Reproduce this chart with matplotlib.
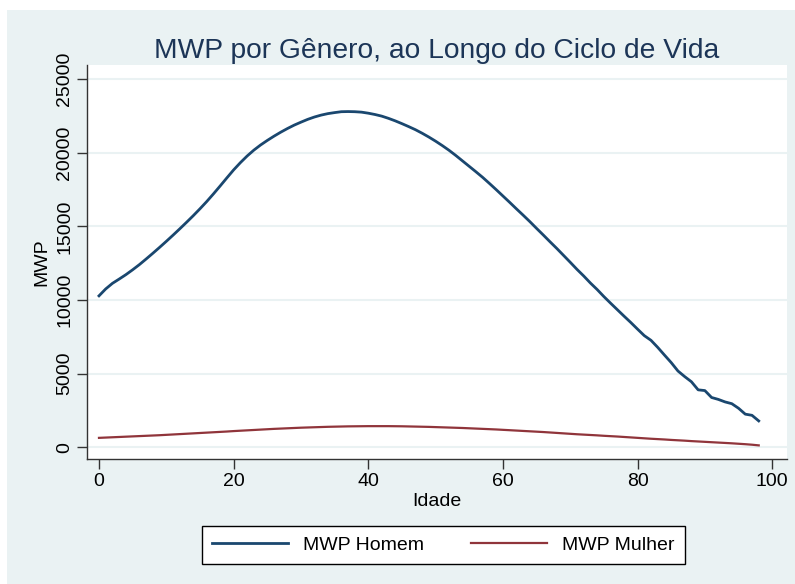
import matplotlib
matplotlib.use("Agg")
import matplotlib.pyplot as plt
from matplotlib.patches import Rectangle

plt.rcParams['font.family'] = ['Liberation Sans', 'DejaVu Sans']

idade = list(range(0, 99))
mwp_homem = [
    10280, 10750, 11130, 11420, 11720, 12050, 12400, 12780, 13170, 13570,
    13980, 14400, 14830, 15270, 15720, 16190, 16680, 17200, 17740, 18290,
    18830, 19320, 19770, 20170, 20520, 20830, 21120, 21390, 21640, 21870,
    22070, 22260, 22420, 22550, 22650, 22720, 22780, 22790, 22780, 22750,
    22680, 22590, 22480, 22330, 22160, 21970, 21770, 21560, 21320, 21060,
    20780, 20480, 20160, 19810, 19440, 19070, 18700, 18320, 17910, 17490,
    17060, 16630, 16190, 15760, 15320, 14860, 14410, 13950, 13500, 13030,
    12560, 12080, 11630, 11150, 10710, 10230, 9780, 9340, 8900, 8470,
    8020, 7580, 7260, 6780, 6260, 5750, 5180, 4800, 4450, 3900,
    3850, 3380, 3250, 3080, 2960, 2650, 2250, 2170, 1790,
]
mwp_mulher = [
    640, 660, 680, 700, 720, 740, 760, 780, 800, 820,
    845, 870, 895, 920, 945, 970, 995, 1020, 1045, 1070,
    1100, 1125, 1150, 1175, 1200, 1225, 1250, 1270, 1290, 1310,
    1330, 1345, 1360, 1375, 1390, 1400, 1410, 1420, 1425, 1430,
    1435, 1435, 1435, 1435, 1430, 1425, 1415, 1405, 1395, 1385,
    1370, 1355, 1340, 1325, 1310, 1290, 1270, 1250, 1230, 1210,
    1185, 1160, 1135, 1110, 1085, 1060, 1035, 1005, 975, 945,
    915, 885, 860, 835, 810, 780, 755, 730, 700, 670,
    640, 610, 580, 555, 530, 500, 475, 450, 420, 395,
    370, 345, 320, 295, 270, 240, 210, 175, 130,
]
xticks = [0, 20, 40, 60, 80, 100]
yticks = [0, 5000, 10000, 15000, 20000, 25000]

W, H = 795, 584
bg = '#EAF2F3'
fig = plt.figure(figsize=(W / 100, H / 100), dpi=100, facecolor='white')
fig.patches.append(Rectangle((7 / W, 0), 1 - 7 / W, 1 - 10 / H, transform=fig.transFigure,
                             facecolor=bg, edgecolor='none', zorder=-10))

ax = fig.add_axes([87 / W, 1 - 459 / H, (787 - 87) / W, (459 - 65) / H])
ax.set_facecolor('white')
ax.plot(idade, mwp_homem, color='#1A476F', lw=2.0, label='MWP Homem')
ax.plot(idade, mwp_mulher, color='#90353B', lw=1.6, label='MWP Mulher')

ax.set_xlim(-1.78, 102.2)
ax.set_ylim(-795, 25951)
ax.set_xticks(xticks)
ax.set_yticks(yticks)
ax.grid(axis='y', color=bg, lw=1.5)
ax.set_axisbelow(True)
for s in ['top', 'right']:
    ax.spines[s].set_visible(False)
for s in ['left', 'bottom']:
    ax.spines[s].set_color('#333333')
    ax.spines[s].set_linewidth(1.0)
ax.tick_params(direction='out', length=7, width=1, color='#333333', labelsize=14, pad=3)
for lab in ax.get_yticklabels():
    lab.set_rotation(90)
    lab.set_va('center')

ax.set_xlabel('Idade', fontsize=14, labelpad=2)
ax.set_ylabel('MWP', fontsize=14, labelpad=4)
ax.set_title('MWP por Gênero, ao Longo do Ciclo de Vida', fontsize=20.3, color='#1C3557', pad=5)

leg = fig.legend(loc='center', bbox_to_anchor=(443.5 / W, 1 - 545 / H), ncol=2,
                 fontsize=14, frameon=True, fancybox=False, edgecolor='black',
                 handlelength=3.9, columnspacing=2.4, borderpad=0.5, handletextpad=0.8)
leg.get_frame().set_linewidth(1.0)
leg.get_frame().set_facecolor('white')
leg.get_frame().set_alpha(1.0)

fig.savefig('out.png', dpi=100, facecolor=fig.get_facecolor())
